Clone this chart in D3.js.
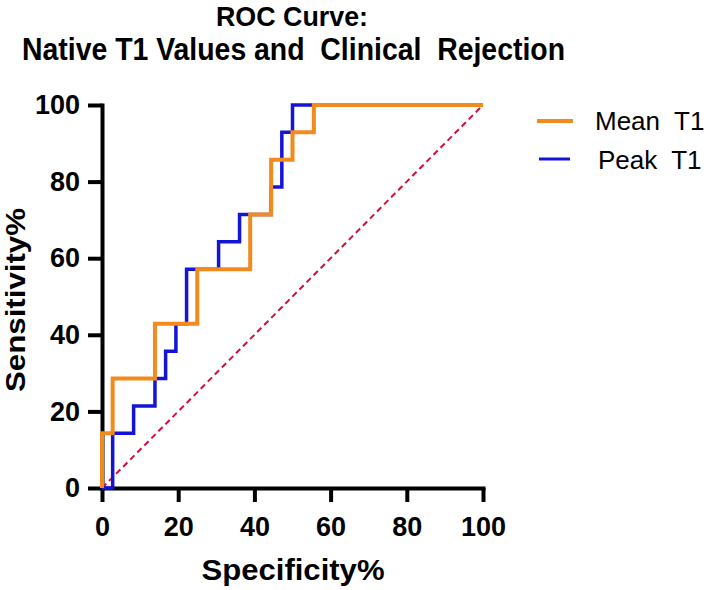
<!DOCTYPE html>
<html>
<head>
<meta charset="utf-8">
<script src="https://cdn.jsdelivr.net/npm/d3@7"></script>
<style>
  body { margin: 0; background: #fff; }
  svg { display: block; font-family: "Liberation Sans", Arial, sans-serif; }
</style>
</head>
<body>
<div id="chart"></div>
<script>
// ROC corner points (specificity%, sensitivity%), drawn as steps
const meanSpec = [0, 2.8, 13.9, 25, 38.9, 44.4, 50, 55.6, 100];
const meanSens = [0, 14.3, 28.6, 42.9, 57.1, 71.4, 85.7, 92.9, 100];
const peakSpec = [0, 2.8, 8.3, 13.9, 16.7, 19.4, 22.2, 30.6, 36.1, 44.4, 47.2, 50, 100];
const peakSens = [0, 0, 14.3, 21.4, 28.6, 35.7, 42.9, 57.1, 64.3, 71.4, 78.6, 92.9, 100];
const refLine = [0, 100];
const xTicks = [0, 20, 40, 60, 80, 100];
const yTicks = [0, 20, 40, 60, 80, 100];
const seriesNames = ["Mean  T1", "Peak  T1"];

document.addEventListener('DOMContentLoaded', function () {
    const width = 707, height = 590;

    const svg = d3.select("#chart")
        .append("svg")
        .attr("width", width)
        .attr("height", height);

    svg.append("rect").attr("width", width).attr("height", height).attr("fill", "#fff");

    // scales
    const x = d3.scaleLinear().domain([0, 100]).range([102, 483]);
    const y = d3.scaleLinear().domain([0, 100]).range([488, 105]);

    // title
    svg.append("text")
        .attr("x", 216).attr("y", 26)
        .attr("textLength", 152).attr("lengthAdjust", "spacingAndGlyphs")
        .style("font-size", "28px").style("font-weight", "bold")
        .text("ROC Curve:");
    svg.append("text")
        .attr("x", 22).attr("y", 60)
        .attr("textLength", 543).attr("lengthAdjust", "spacingAndGlyphs")
        .style("font-size", "32px").style("font-weight", "bold")
        .style("white-space", "pre")
        .text("Native T1 Values and  Clinical  Rejection");

    // axes
    const xAxis = svg.append("g")
        .attr("transform", "translate(0," + y(0) + ")")
        .call(d3.axisBottom(x).tickValues(xTicks).tickSize(14).tickSizeOuter(0).tickPadding(15));
    const yAxis = svg.append("g")
        .attr("transform", "translate(" + x(0) + ",0)")
        .call(d3.axisLeft(y).tickValues(yTicks).tickSize(14).tickSizeOuter(0).tickPadding(8));

    [xAxis, yAxis].forEach(function (g) {
        g.select(".domain").attr("stroke", "#000").attr("stroke-width", 4).attr("stroke-linecap", "square");
        g.selectAll(".tick line").attr("stroke", "#000").attr("stroke-width", 4);
        g.selectAll(".tick text")
            .attr("fill", "#000")
            .style("font-size", "27px")
            .style("font-weight", "bold")
            .style("font-family", "'Liberation Sans', Arial, sans-serif");
    });

    // axis titles
    svg.append("text")
        .attr("x", 293).attr("y", 580)
        .attr("text-anchor", "middle")
        .attr("textLength", 183).attr("lengthAdjust", "spacingAndGlyphs")
        .style("font-size", "29px").style("font-weight", "bold")
        .text("Specificity%");
    svg.append("text")
        .attr("transform", "translate(25,300) rotate(-90)")
        .attr("text-anchor", "middle")
        .attr("textLength", 184).attr("lengthAdjust", "spacingAndGlyphs")
        .style("font-size", "28px").style("font-weight", "bold")
        .text("Sensitivity%");

    // reference diagonal
    svg.append("path")
        .datum(refLine)
        .attr("d", d3.line().x(d => x(d)).y(d => y(d)))
        .attr("fill", "none")
        .attr("stroke", "#d0103a")
        .attr("stroke-width", 2)
        .attr("stroke-dasharray", "6,4");

    const step = d3.line()
        .x(d => x(d[0]))
        .y(d => y(d[1]))
        .curve(d3.curveStepBefore);

    const peak = peakSpec.map((s, i) => [s, peakSens[i]]);
    const mean = meanSpec.map((s, i) => [s, meanSens[i]]);

    svg.append("path")
        .datum(peak)
        .attr("d", step)
        .attr("fill", "none")
        .attr("stroke", "#1414d8")
        .attr("stroke-width", 3.5);

    svg.append("path")
        .datum(mean)
        .attr("d", step)
        .attr("fill", "none")
        .attr("stroke", "#f28a1d")
        .attr("stroke-width", 4);

    // legend
    const legend = [
        { name: seriesNames[0], color: "#f28a1d", w: 4, x1: 537, x2: 573, ly: 121, tx: 595, ty: 130 },
        { name: seriesNames[1], color: "#1414d8", w: 3, x1: 539, x2: 570, ly: 159, tx: 598, ty: 169 }
    ];
    const lg = svg.append("g").selectAll("g").data(legend).join("g");
    lg.append("line")
        .attr("x1", d => d.x1).attr("x2", d => d.x2)
        .attr("y1", d => d.ly).attr("y2", d => d.ly)
        .attr("stroke", d => d.color)
        .attr("stroke-width", d => d.w);
    lg.append("text")
        .attr("x", d => d.tx).attr("y", d => d.ty)
        .style("font-size", "26px")
        .style("white-space", "pre")
        .text(d => d.name);
});
</script>
</body>
</html>
